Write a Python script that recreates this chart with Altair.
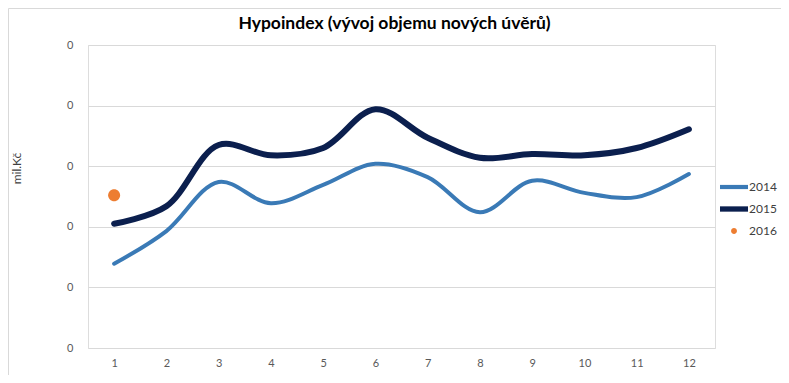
import altair as alt
import pandas as pd

months = list(range(1, 13))
v2014 = [1.39, 1.93, 2.74, 2.39, 2.69, 3.04, 2.82, 2.24, 2.76, 2.56, 2.49, 2.87]
v2015 = [2.05, 2.34, 3.35, 3.18, 3.30, 3.94, 3.47, 3.14, 3.20, 3.18, 3.30, 3.61]
v2016 = [2.52]
years = ["2014", "2015", "2016"]
colors = ["#3A7AB6", "#0B1F4E", "#ED7D31"]
y_ticks = [0, 1, 2, 3, 4, 5]

rows = []
for m, v in zip(months, v2014):
    rows.append({"mesic": m, "hodnota": v, "rok": "2014"})
for m, v in zip(months, v2015):
    rows.append({"mesic": m, "hodnota": v, "rok": "2015"})
for m, v in zip(months[:1], v2016):
    rows.append({"mesic": m, "hodnota": v, "rok": "2016"})
df = pd.DataFrame(rows)

FONT = "Lato"

# legend symbol shapes: thin bars for the lines, small dot for 2016
shapes = ["M-1,-0.15H1V0.15H-1Z",
          "M-1,-0.19H1V0.19H-1Z",
          "M-0.21,0A0.21,0.21 0 1,0 0.21,0A0.21,0.21 0 1,0 -0.21,0Z"]

legend_props = dict(orient="none", legendX=632, legendY=128,
                    labelFont=FONT, labelFontSize=12, labelColor="#404040",
                    symbolSize=784, symbolStrokeWidth=0, rowPadding=2,
                    labelOffset=1)

x_enc = alt.X("mesic:O", title=None,
              scale=alt.Scale(domain=months, padding=0.5),
              axis=alt.Axis(labelAngle=0, domain=False, ticks=False, grid=False,
                            labelFontSize=11, labelColor="#595959", labelFont=FONT,
                            labelPadding=9))
y_enc = alt.Y("hodnota:Q", title="mil.Kč",
              scale=alt.Scale(domain=[0, 5], nice=False),
              axis=alt.Axis(values=y_ticks, labelExpr="'0'", domain=False, ticks=False,
                            grid=True, gridColor="#D9D9D9", gridWidth=1,
                            labelFontSize=11, labelColor="#595959", labelFont=FONT,
                            labelPadding=15, titleFont=FONT, titleFontSize=12,
                            titleFontWeight="normal", titleColor="#404040",
                            titleAngle=-90, titleX=-65, titleY=123))
color_enc = alt.Color("rok:N", title=None,
                      scale=alt.Scale(domain=years, range=colors),
                      legend=alt.Legend(**legend_props))
shape_enc = alt.Shape("rok:N", title=None,
                      scale=alt.Scale(domain=years, range=shapes),
                      legend=alt.Legend(**legend_props))

base = alt.Chart(df)
l14 = base.transform_filter("datum.rok == '2014'").mark_line(
    interpolate="catmull-rom", strokeWidth=4, strokeCap="round").encode(
    x=x_enc, y=y_enc, color=color_enc)
l15 = base.transform_filter("datum.rok == '2015'").mark_line(
    interpolate="catmull-rom", strokeWidth=6, strokeCap="round").encode(
    x=x_enc, y=y_enc, color=color_enc)
p16 = base.transform_filter("datum.rok == '2016'").mark_point(
    filled=True, size=3265, opacity=1, strokeWidth=0).encode(
    x=x_enc, y=y_enc, color=color_enc, shape=shape_enc)

border = alt.Chart(pd.DataFrame({"a": [0]})).mark_rect(
    fill=None, stroke="#D9D9D9", strokeWidth=1).encode(
    x=alt.value(-79.5), x2=alt.value(698.5), y=alt.value(-36.5), y2=alt.value(336.5))

chart = alt.layer(border, l14, l15, p16).properties(
    width=627, height=303,
    autosize=alt.AutoSizeParams(type="none"),
    padding={"left": 80, "top": 37, "right": 66, "bottom": 27},
    title=alt.Title("Hypoindex (vývoj objemu nových úvěrů)", font=FONT,
                    fontSize=17.5, fontWeight="bold", color="#000000",
                    anchor="middle", dx=-7, offset=-24),
).configure_view(stroke=None).configure(background="white")

chart.save("out.html", embed_options={"renderer": "svg", "actions": False})
